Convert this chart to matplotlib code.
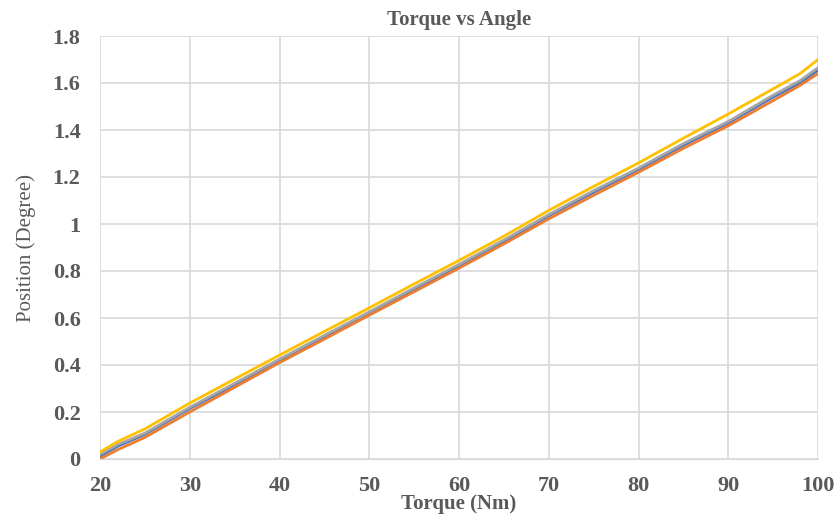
import matplotlib
matplotlib.use("Agg")
import matplotlib.pyplot as plt

torque = [20, 22, 25, 30, 35, 40, 45, 50, 55, 60, 65, 70, 75, 80, 85, 90, 95, 98, 100]
blue   = [0.012, 0.055, 0.105, 0.215, 0.315, 0.420, 0.520, 0.620, 0.720, 0.822, 0.925, 1.035, 1.135, 1.232, 1.335, 1.430, 1.540, 1.600, 1.655]
orange = [0.000, 0.040, 0.092, 0.200, 0.305, 0.410, 0.510, 0.612, 0.712, 0.812, 0.915, 1.022, 1.122, 1.220, 1.322, 1.418, 1.525, 1.590, 1.640]
gray   = [0.020, 0.062, 0.110, 0.220, 0.322, 0.425, 0.526, 0.626, 0.728, 0.828, 0.932, 1.040, 1.142, 1.238, 1.342, 1.436, 1.548, 1.610, 1.665]
yellow = [0.030, 0.075, 0.128, 0.238, 0.340, 0.442, 0.543, 0.643, 0.745, 0.845, 0.948, 1.058, 1.160, 1.260, 1.365, 1.468, 1.575, 1.640, 1.700]

xticks = [20, 30, 40, 50, 60, 70, 80, 90, 100]
yticks = [0, 0.2, 0.4, 0.6, 0.8, 1.0, 1.2, 1.4, 1.6, 1.8]
ytick_labels = ["0", "0.2", "0.4", "0.6", "0.8", "1", "1.2", "1.4", "1.6", "1.8"]

plt.rcParams['font.family'] = ['Liberation Serif', 'DejaVu Serif']
txt = '#595959'

fig = plt.figure(figsize=(8.38, 5.18), dpi=100)
ax = fig.add_axes([100/838, 1-459/518, 718/838, 423/518])

ax.plot(torque, blue, color='#4472C4', lw=2)
ax.plot(torque, orange, color='#ED7D31', lw=2)
ax.plot(torque, gray, color='#A5A5A5', lw=2)
ax.plot(torque, yellow, color='#FFC000', lw=2)

ax.set_xlim(20, 100)
ax.set_ylim(0, 1.8)
ax.set_xticks(xticks)
ax.set_yticks(yticks)
ax.set_yticklabels(ytick_labels)
ax.grid(True, color='#D9D9D9', lw=1.2)
ax.set_axisbelow(True)
for s in ax.spines.values():
    s.set_visible(False)
ax.spines['bottom'].set_visible(True)
ax.spines['bottom'].set_color('#D9D9D9')
ax.tick_params(length=0, labelsize=16, colors=txt)
for lab in ax.get_xticklabels() + ax.get_yticklabels():
    lab.set_fontweight('bold')
ax.tick_params(axis='y', pad=14)
ax.tick_params(axis='x', pad=12)

ax.set_title('Torque vs Angle', fontsize=15, fontweight='bold', color=txt, pad=8)
ax.set_xlabel('Torque (Nm)', fontsize=15, fontweight='bold', color=txt, labelpad=-1)
ax.set_ylabel('Position (Degree)', fontsize=15, color=txt, labelpad=12)

fig.savefig('out.png', dpi=100, facecolor='white')
